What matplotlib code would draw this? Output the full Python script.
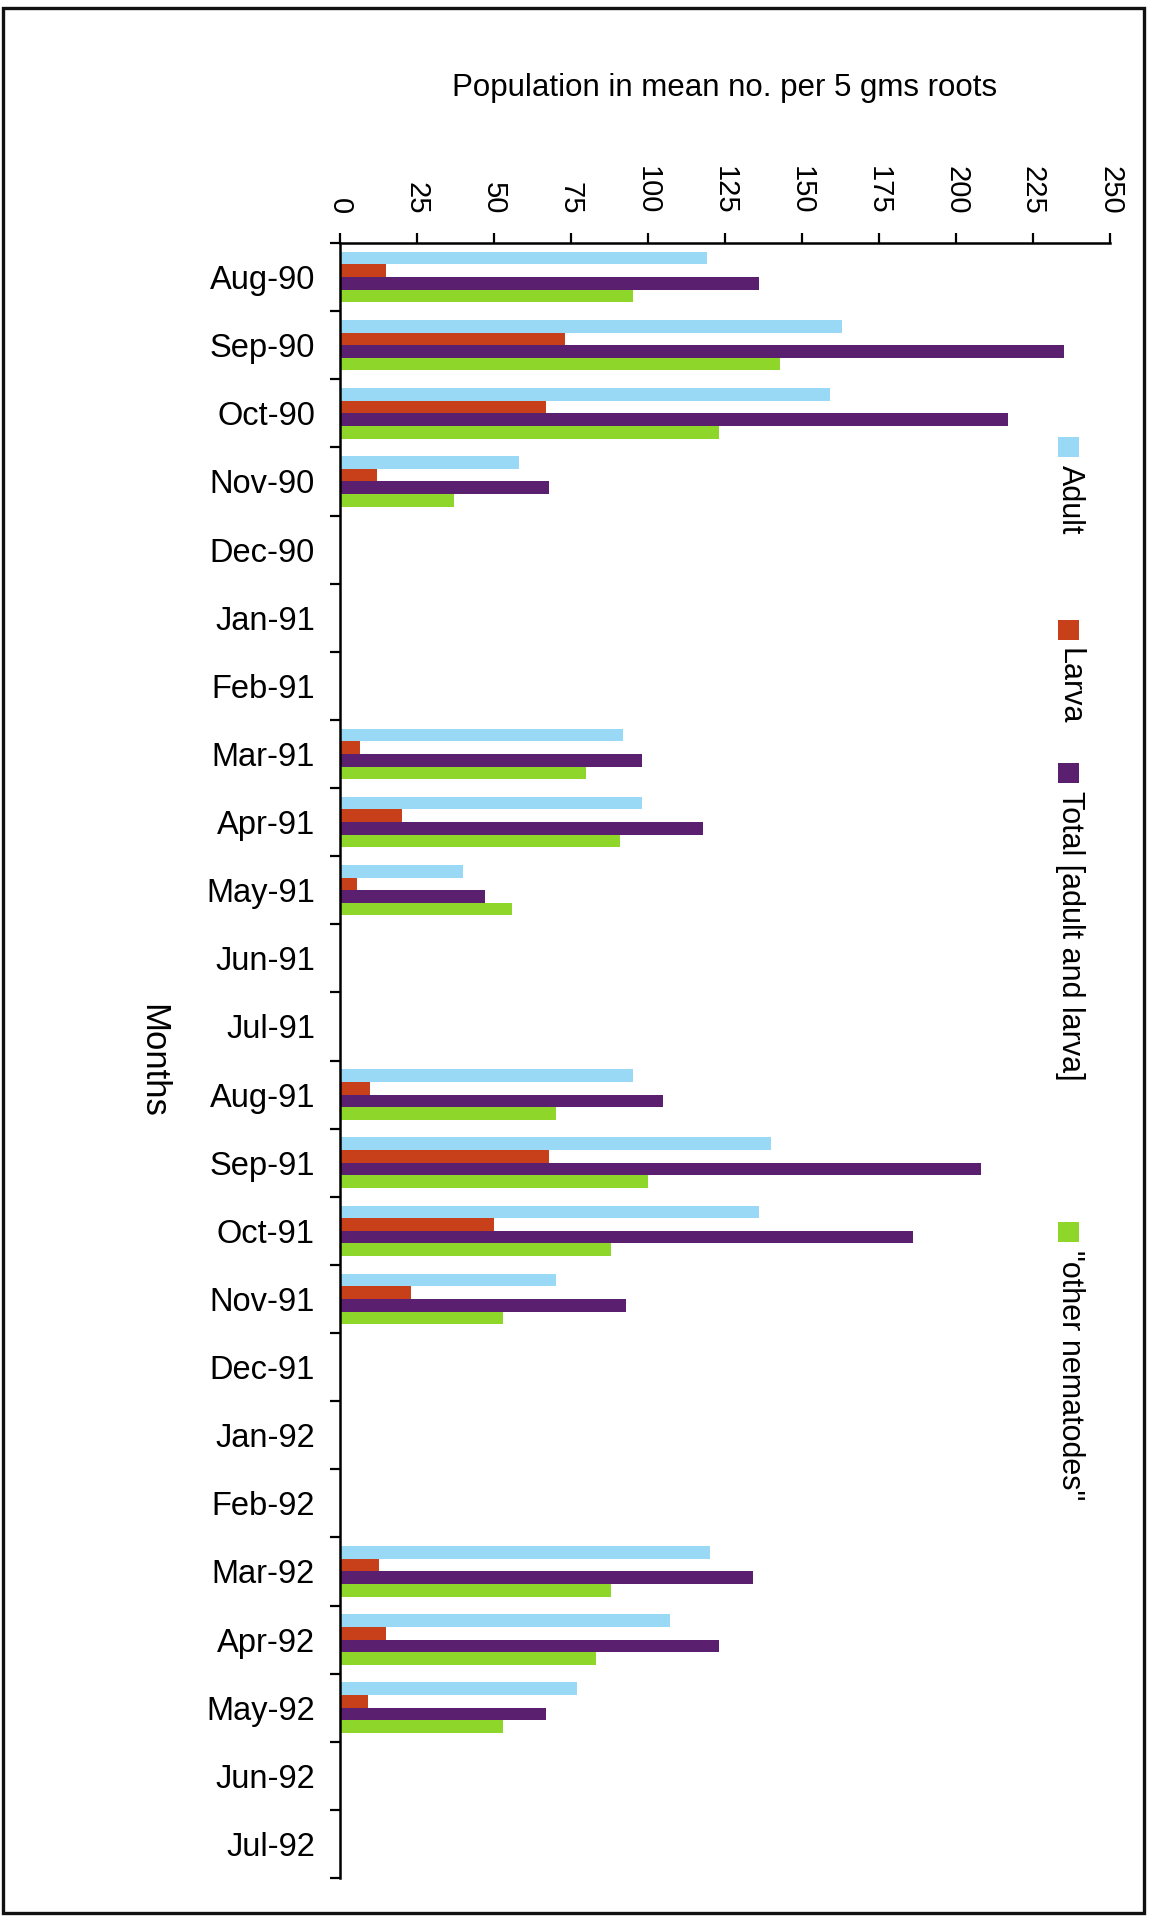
import matplotlib
matplotlib.use('Agg')
import matplotlib.pyplot as plt
from matplotlib.patches import Rectangle
import numpy as np

# Datos (media por 5 g de raices)
meses = ['Aug-90', 'Sep-90', 'Oct-90', 'Nov-90', 'Dec-90', 'Jan-91', 'Feb-91',
         'Mar-91', 'Apr-91', 'May-91', 'Jun-91', 'Jul-91', 'Aug-91', 'Sep-91',
         'Oct-91', 'Nov-91', 'Dec-91', 'Jan-92', 'Feb-92', 'Mar-92', 'Apr-92',
         'May-92', 'Jun-92', 'Jul-92']

adult = [119, 163, 159, 58, 0, 0, 0, 92, 98, 40, 0, 0,
         95, 140, 136, 70, 0, 0, 0, 120, 107, 77, 0, 0]
larva = [15, 73, 67, 12, 0, 0, 0, 6.5, 20, 5.6, 0, 0,
         9.7, 68, 50, 23, 0, 0, 0, 12.6, 15, 9, 0, 0]
total = [136, 235, 217, 68, 0, 0, 0, 98, 118, 47, 0, 0,
         105, 208, 186, 93, 0, 0, 0, 134, 123, 67, 0, 0]
otros = [95, 143, 123, 37, 0, 0, 0, 80, 91, 56, 0, 0,
         70, 100, 88, 53, 0, 0, 0, 88, 83, 53, 0, 0]

series = ['Adult', 'Larva', 'Total [adult and larva]', '"other nematodes"']
colores = ['#9ad9f5', '#c8401a', '#5a1f6e', '#8fd62a']
xticks = [0, 25, 50, 75, 100, 125, 150, 175, 200, 225, 250]

plt.rcParams['font.family'] = ['Liberation Sans', 'DejaVu Sans']

W, H = 1157, 1916
fig = plt.figure(figsize=(W / 100, H / 100), dpi=100)
ax = fig.add_axes([340 / W, 1 - 1878 / H, 770 / W, 1635 / H])

# Barras horizontales agrupadas
y = np.arange(len(meses))
h = 0.185
for k, (vals, col) in enumerate(zip([adult, larva, total, otros], colores)):
    ax.barh(y + (k - 1.5) * h, vals, height=h, color=col, linewidth=0)

ax.set_xlim(0, 250)
ax.set_ylim(len(meses) - 0.5, -0.5)

# Eje x arriba, etiquetas giradas
ax.xaxis.tick_top()
ax.set_xticks(xticks)
ax.set_xticklabels([str(t) for t in xticks])
ax.tick_params(axis='x', which='major', labelrotation=-90, labelsize=21,
               length=7.5, width=1.6, direction='out', pad=13)

# Eje y: marcas entre categorias, etiquetas centradas
ax.set_yticks(np.arange(len(meses) + 1) - 0.5)
ax.set_yticklabels([])
ax.set_yticks(y, minor=True)
ax.set_yticklabels(meses, minor=True)
ax.tick_params(axis='y', which='major', length=7.5, width=1.6, direction='out')
ax.tick_params(axis='y', which='minor', length=0, labelsize=23.5, pad=18)

for s in ['right', 'bottom']:
    ax.spines[s].set_visible(False)
for s in ['top', 'left']:
    ax.spines[s].set_linewidth(1.8)

ax.xaxis.set_label_position('top')
ax.set_xlabel('Population in mean no. per 5 gms roots', fontsize=22.5)
ax.xaxis.set_label_coords(0.5, 1 + (243 - 88) / 1635)
ax.xaxis.label.set_va('center')

ax.set_ylabel('Months', fontsize=25, rotation=-90)
ax.yaxis.set_label_coords((153 - 340) / 770, 0.5)
ax.yaxis.label.set_va('center')

# Leyenda girada a la derecha
leg_y = [437, 620, 763, 1222]
for nombre, col, yt in zip(series, colores, leg_y):
    fig.patches.append(Rectangle((1058 / W, 1 - (yt + 20) / H), 21 / W, 20 / H,
                                 transform=fig.transFigure, color=col, lw=0))
    fig.text(1070 / W, 1 - (yt + 28) / H, nombre, rotation=-90, fontsize=22,
             ha='center', va='top')

# Marco exterior
fig.patches.append(Rectangle((3 / W, 3 / H), 1141 / W, 1905 / H,
                             transform=fig.transFigure, fill=False,
                             edgecolor='#111111', lw=2.4))

fig.savefig('out.png', dpi=100)
